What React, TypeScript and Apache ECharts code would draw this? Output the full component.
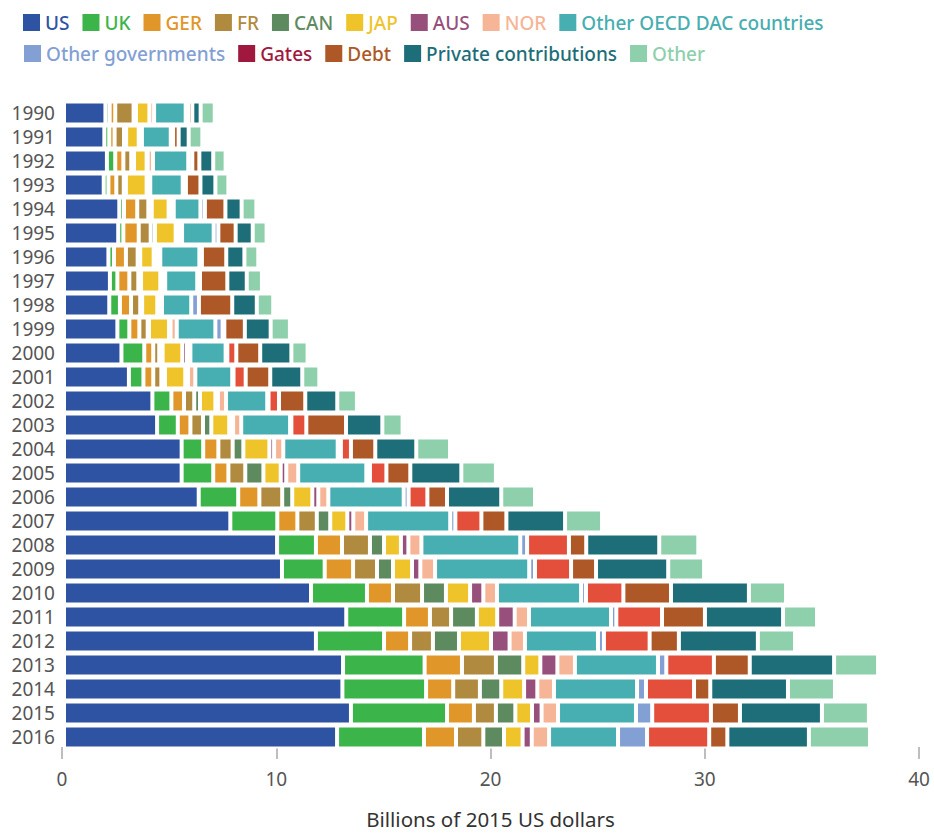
import React, { useEffect, useRef } from 'react';
import * as echarts from 'echarts';

const years = ['1990','1991','1992','1993','1994','1995','1996','1997','1998','1999','2000','2001','2002','2003','2004','2005','2006','2007','2008','2009','2010','2011','2012','2013','2014','2015','2016'];

const US = [1.94,1.89,2.01,1.86,2.59,2.54,2.08,2.15,2.12,2.50,2.69,3.04,4.14,4.36,5.51,5.51,6.31,7.79,9.98,10.21,11.57,13.22,11.80,13.07,13.04,13.44,12.79];
const UK = [0.20,0.23,0.39,0.22,0.22,0.24,0.26,0.35,0.50,0.56,1.07,0.68,0.89,0.97,1.01,1.48,1.85,2.20,1.82,2.00,2.62,2.71,3.19,3.82,3.92,4.50,4.07];
const GER = [0.26,0.25,0.38,0.37,0.62,0.72,0.56,0.56,0.52,0.47,0.42,0.46,0.59,0.59,0.71,0.71,0.99,0.94,1.22,1.33,1.22,1.21,1.22,1.75,1.27,1.26,1.50];
const FR = [0.86,0.44,0.37,0.35,0.52,0.56,0.55,0.42,0.43,0.39,0.28,0.38,0.48,0.59,0.67,0.79,1.07,0.91,1.31,1.12,1.36,0.99,1.07,1.59,1.25,1.03,1.28];
const CAN = [0.11,0.10,0.13,0.10,0.16,0.20,0.12,0.13,0.09,0.06,0.16,0.17,0.27,0.39,0.50,0.85,0.47,0.63,0.66,0.75,1.12,1.21,1.22,1.28,1.00,0.91,0.97];
const JAP = [0.63,0.59,0.59,0.97,0.79,0.97,0.63,0.90,0.71,0.94,0.92,0.95,0.72,0.84,1.22,0.81,0.94,0.80,0.79,0.89,1.13,0.95,1.50,0.80,1.07,0.78,0.87];
const AUS = [0,0,0.05,0.05,0.16,0.16,0.14,0.08,0.08,0.07,0.22,0.13,0.12,0.18,0.22,0.26,0.28,0.28,0.35,0.39,0.62,0.82,0.87,0.80,0.62,0.45,0.43];
const NOR = [0.22,0.15,0.25,0.12,0.08,0.14,0.17,0.15,0.14,0.29,0.16,0.34,0.38,0.38,0.43,0.56,0.47,0.60,0.61,0.69,0.64,0.67,0.72,0.82,0.78,0.77,0.81];
const OECD = [1.48,1.35,1.65,1.52,1.25,1.48,1.83,1.50,1.37,1.81,1.65,1.73,1.93,2.29,2.55,3.19,3.53,3.94,4.63,4.41,3.94,3.84,3.42,3.89,3.89,3.65,3.23];
const OTHER_GOV = [0.11,0.11,0.19,0.15,0.21,0.22,0.12,0.13,0.36,0.34,0.08,0.06,0.06,0.06,0.15,0.17,0.23,0.24,0.32,0.27,0.23,0.25,0.28,0.39,0.42,0.76,1.36];
const GATES = [0,0,0,0,0,0,0,0,0,0.08,0.42,0.57,0.49,0.70,0.47,0.77,0.88,1.22,1.96,1.69,1.75,2.14,2.14,2.23,2.25,2.75,2.91];
const DEBT = [0.20,0.26,0.33,0.68,0.96,0.81,1.14,1.28,1.56,0.96,1.12,1.15,1.23,1.86,1.14,1.12,0.92,1.17,0.81,1.17,2.23,2.01,1.37,1.68,0.76,1.36,0.85];
const PRIVATE = [0.39,0.47,0.65,0.70,0.76,0.80,0.85,0.91,1.15,1.21,1.46,1.50,1.50,1.70,1.92,2.39,2.54,2.75,3.42,3.38,3.65,3.66,3.70,3.95,3.64,3.84,3.82];
const OTHER = [0.66,0.64,0.58,0.61,0.69,0.65,0.65,0.71,0.77,0.90,0.76,0.80,0.92,0.95,1.58,1.62,1.58,1.73,1.83,1.68,1.74,1.59,1.74,2.06,2.20,2.20,2.86];

const seriesNames = ['US','UK','GER','FR','CAN','JAP','AUS','NOR','Other OECD DAC countries','Other governments','Gates','Debt','Private contributions','Other'];
const seriesData = [US,UK,GER,FR,CAN,JAP,AUS,NOR,OECD,OTHER_GOV,GATES,DEBT,PRIVATE,OTHER];
const barColors = ['#2e53a2','#3bb54a','#e09628','#b08a3e','#5e8a60','#eec42a','#974f7b','#f6b596','#47aeb1','#83a0d4','#e34f3a','#ad5826','#1d6e79','#8ecfac'];
const legendColors = ['#2e53a2','#3bb54a','#e09628','#b08a3e','#5e8a60','#eec42a','#974f7b','#f6b596','#47aeb1','#83a0d4','#a1183f','#ad5826','#1d6e79','#8ecfac'];

const xTicks = [0, 10, 20, 30, 40];
const FONT = 'Noto Sans';

export default function App() {
  const ref = useRef<HTMLDivElement>(null);
  useEffect(() => {
    document.body.style.margin = '0';
    if (!ref.current) return;
    const chart = echarts.init(ref.current, undefined, { renderer: 'svg' });
    const legendItem = (i: number) => ({
      name: seriesNames[i],
      itemStyle: { color: legendColors[i], borderWidth: 0 },
      textStyle: { color: legendColors[i] },
    });
    const legendBase = {
      orient: 'horizontal',
      icon: 'rect',
      itemWidth: 17,
      itemHeight: 17,
      itemGap: 13,
      selectedMode: false,
      textStyle: { fontFamily: FONT, fontSize: 19, fontWeight: 500 },
      itemStyle: { borderWidth: 0 },
      padding: 0,
    };
    const option: any = {
      animation: false,
      textStyle: { fontFamily: FONT },
      legend: [
        { ...legendBase, left: 23, top: 13, data: [0,1,2,3,4,5,6,7,8].map(legendItem) },
        { ...legendBase, left: 24, top: 44, data: [9,10,11,12,13].map(legendItem) },
      ],
      grid: [
        { left: 64, right: 16, top: 101, height: 648 },
        { left: 62, right: 15, top: 101, height: 662 },
      ],
      xAxis: [
        {
          gridIndex: 0, type: 'value', min: 0, max: 40, interval: 10,
          axisLine: { show: false }, axisTick: { show: false }, axisLabel: { show: false }, splitLine: { show: false },
        },
        {
          gridIndex: 1, type: 'value', min: xTicks[0], max: xTicks[xTicks.length - 1], interval: 10,
          axisLine: { show: true, onZero: false, lineStyle: { color: 'rgba(0,0,0,0)' } },
          axisTick: { show: true, length: 12, lineStyle: { color: '#a8a8a8', width: 1.5 } },
          axisLabel: { show: true, margin: 22, fontSize: 19, color: '#555', fontFamily: FONT },
          splitLine: { show: false },
          name: 'Billions of 2015 US dollars',
          nameLocation: 'middle',
          nameGap: 61,
          nameTextStyle: { fontSize: 20.5, color: '#333', fontFamily: FONT },
        },
      ],
      yAxis: [
        {
          gridIndex: 0, type: 'category', data: years, inverse: true,
          axisLine: { show: false }, axisTick: { show: false },
          axisLabel: { interval: 0, margin: 9, fontSize: 19, color: '#555', fontFamily: FONT },
        },
        {
          gridIndex: 1, type: 'category', data: years, inverse: true, show: false,
        },
      ],
      series: seriesNames.map((name, i) => ({
        name,
        type: 'bar',
        stack: 'total',
        xAxisIndex: 0,
        yAxisIndex: 0,
        barWidth: 23,
        data: seriesData[i],
        itemStyle: { color: barColors[i], borderColor: '#ffffff', borderWidth: 2 },
        emphasis: { disabled: true },
      })),
    };
    chart.setOption(option);
    return () => chart.dispose();
  }, []);
  return <div ref={ref} style={{ width: 934, height: 834 }} />;
}
